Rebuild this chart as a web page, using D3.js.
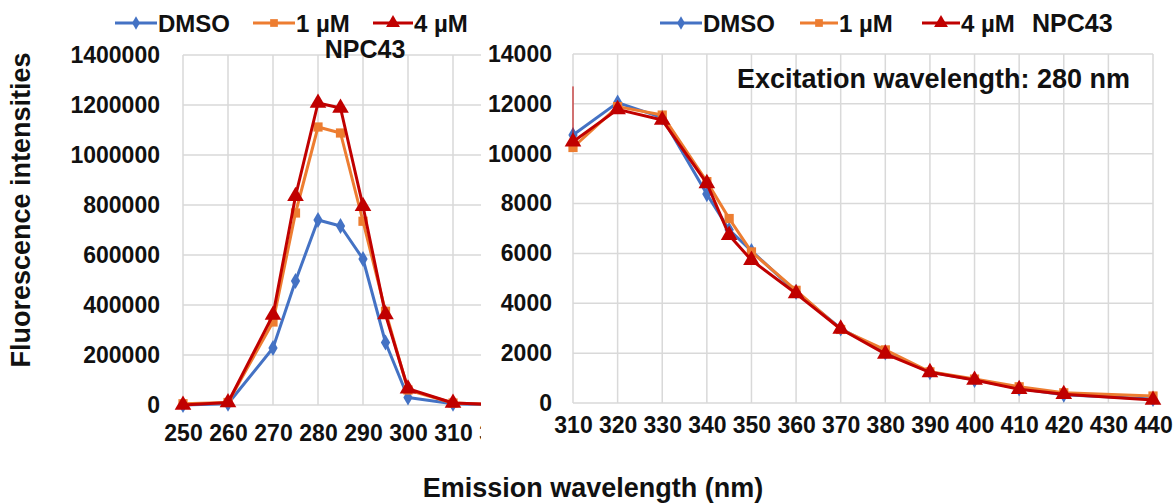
<!DOCTYPE html>
<html>
<head>
<meta charset="utf-8">
<script src="https://cdn.jsdelivr.net/npm/d3@7"></script>
<style>
  body { margin: 0; background: #fff; }
  text { font-family: "Liberation Sans", Arial, sans-serif; font-weight: bold; fill: #111; }
</style>
</head>
<body>
<div id="chart"></div>
<script>
// Left panel data (250-320 nm)
var left_wavelengths = [250, 260, 270, 275, 280, 285, 290, 295, 300, 310, 320];
var left_dmso = [0, 5000, 228000, 496000, 740000, 716000, 584000, 250000, 30000, 5000, 0];
var left_1um = [5000, 10000, 332000, 768000, 1112000, 1088000, 735000, 375000, 60000, 8000, 2000];
var left_4um = [0, 10000, 360000, 835000, 1208000, 1188000, 795000, 362000, 65000, 8000, 2000];

// Right panel data (310-440 nm)
var right_wavelengths = [310, 320, 330, 340, 345, 350, 360, 370, 380, 390, 400, 410, 420, 440];
var right_dmso = [10750, 12050, 11450, 8380, 6950, 6100, 4460, 2990, 2030, 1240, 930, 580, 330, 160];
var right_1um = [10250, 11890, 11550, 8880, 7400, 6060, 4520, 2950, 2130, 1250, 960, 650, 410, 280];
var right_4um = [10480, 11780, 11350, 8810, 6730, 5730, 4390, 2970, 1970, 1230, 920, 550, 350, 120];
var right_4um_spike = 12700;

var left_x_ticks = [250, 260, 270, 280, 290, 300, 310, 320];
var left_y_ticks = [0, 200000, 400000, 600000, 800000, 1000000, 1200000, 1400000];
var right_x_ticks = [310, 320, 330, 340, 350, 360, 370, 380, 390, 400, 410, 420, 430, 440];
var right_y_ticks = [0, 2000, 4000, 6000, 8000, 10000, 12000, 14000];

var series_names = ["DMSO", "1 \u00b5M", "4 \u00b5M"];
var series_colors = ["#4472C4", "#ED7D31", "#C00000"];
var series_symbols = [d3.symbolDiamond, d3.symbolSquare, d3.symbolTriangle];
var series_sizes = [75, 85, 120];

var svg = d3.select("#chart").append("svg")
  .attr("width", 1175)
  .attr("height", 504);

var grid_color = "#d9d9d9";

// Draw a panel: grid, axes labels, lines, markers
function drawPanel(opts) {
  var g = svg.append("g");

  var x = d3.scaleLinear().domain(opts.x_domain).range(opts.x_range);
  var y = d3.scaleLinear().domain(opts.y_domain).range(opts.y_range);

  // clip (only cuts the right side)
  svg.append("clipPath").attr("id", opts.id + "-clip")
    .append("rect")
    .attr("x", opts.x_range[0] - 60)
    .attr("y", 0)
    .attr("width", opts.clip_right - opts.x_range[0] + 60)
    .attr("height", 504);

  var plot_right = Math.min(opts.clip_right, opts.x_range[1]);

  // horizontal grid
  g.selectAll(".hgrid").data(opts.y_ticks).enter().append("line")
    .attr("x1", opts.x_range[0]).attr("x2", plot_right)
    .attr("y1", d => y(d)).attr("y2", d => y(d))
    .attr("stroke", grid_color).attr("stroke-width", 1.5);

  // vertical grid
  g.selectAll(".vgrid").data(opts.x_ticks.filter(d => x(d) <= plot_right)).enter().append("line")
    .attr("x1", d => x(d)).attr("x2", d => x(d))
    .attr("y1", y(opts.y_domain[1])).attr("y2", y(0))
    .attr("stroke", grid_color).attr("stroke-width", 1.5);

  // x axis labels
  var x_axis = g.append("g")
    .attr("transform", `translate(0, ${y(0)})`)
    .attr("clip-path", `url(#${opts.id}-clip)`)
    .call(d3.axisBottom(x).tickValues(opts.x_ticks).tickSize(0).tickPadding(opts.x_pad).tickFormat(d3.format("d")));
  x_axis.select(".domain").remove();
  x_axis.attr("font-size", 23).attr("font-family", null);

  // y axis labels
  var y_axis = g.append("g")
    .attr("transform", `translate(${opts.x_range[0]}, 0)`)
    .call(d3.axisLeft(y).tickValues(opts.y_ticks).tickSize(0).tickPadding(opts.y_pad).tickFormat(d3.format("d")));
  y_axis.select(".domain").remove();
  y_axis.attr("font-size", 23).attr("font-family", null);

  var plot = g.append("g").attr("clip-path", `url(#${opts.id}-clip)`);

  var line = d3.line()
    .x(d => x(d[0]))
    .y(d => y(d[1]));

  opts.series.forEach(function(values, i) {
    var pts = opts.xs.map((w, j) => [w, values[j]]);
    plot.append("path")
      .datum(pts)
      .attr("fill", "none")
      .attr("stroke", series_colors[i])
      .attr("stroke-width", 3)
      .attr("stroke-linejoin", "round")
      .attr("d", line);

    plot.selectAll(".m" + i).data(pts).enter().append("path")
      .attr("transform", d => `translate(${x(d[0])}, ${y(d[1])})`)
      .attr("d", d3.symbol().type(series_symbols[i]).size(series_sizes[i]))
      .attr("fill", series_colors[i]);
  });

  return { g: g, x: x, y: y, plot: plot };
}

var left_panel = drawPanel({
  id: "left",
  x_domain: [250, 320], x_range: [183, 498], clip_right: 481,
  y_domain: [0, 1400000], y_range: [405, 55],
  x_ticks: left_x_ticks, y_ticks: left_y_ticks,
  x_pad: 20, y_pad: 23,
  xs: left_wavelengths,
  series: [left_dmso, left_1um, left_4um]
});

var right_panel = drawPanel({
  id: "right",
  x_domain: [310, 440], x_range: [573, 1153], clip_right: 1175,
  y_domain: [0, 14000], y_range: [403, 54],
  x_ticks: right_x_ticks, y_ticks: right_y_ticks,
  x_pad: 14, y_pad: 21,
  xs: right_wavelengths,
  series: [right_dmso, right_1um, right_4um]
});

// thin red spike at the first point of the 4 uM series
right_panel.plot.append("line")
  .attr("x1", right_panel.x(right_wavelengths[0]))
  .attr("x2", right_panel.x(right_wavelengths[0]))
  .attr("y1", right_panel.y(right_4um[0]))
  .attr("y2", right_panel.y(right_4um_spike))
  .attr("stroke", series_colors[2])
  .attr("stroke-width", 1);

// Legends
function drawLegend(items, y) {
  items.forEach(function(it, i) {
    var lg = svg.append("g");
    lg.append("line")
      .attr("x1", it.x1).attr("x2", it.x2)
      .attr("y1", y).attr("y2", y)
      .attr("stroke", series_colors[i]).attr("stroke-width", 3);
    lg.append("path")
      .attr("transform", `translate(${(it.x1 + it.x2) / 2}, ${y})`)
      .attr("d", d3.symbol().type(series_symbols[i]).size(series_sizes[i] * 0.7))
      .attr("fill", series_colors[i]);
    lg.append("text")
      .attr("x", it.x2 + 1)
      .attr("y", y + 9)
      .attr("font-size", 24)
      .text(series_names[i]);
  });
}

drawLegend([{x1: 115, x2: 157}, {x1: 253, x2: 295}, {x1: 373, x2: 413}], 23);
drawLegend([{x1: 660, x2: 702}, {x1: 800, x2: 838}, {x1: 922, x2: 960}], 23);

svg.append("text")
  .attr("x", 1032).attr("y", 32)
  .attr("font-size", 25)
  .text("NPC43");

svg.append("text")
  .attr("x", 365).attr("y", 58)
  .attr("text-anchor", "middle")
  .attr("font-size", 25)
  .text("NPC43");

svg.append("text")
  .attr("x", 737).attr("y", 88)
  .attr("font-size", 27)
  .text("Excitation wavelength: 280 nm");

// Axis titles
svg.append("text")
  .attr("transform", "translate(30, 210) rotate(-90)")
  .attr("text-anchor", "middle")
  .attr("font-size", 27)
  .text("Fluorescence intensities");

svg.append("text")
  .attr("x", 593).attr("y", 497)
  .attr("text-anchor", "middle")
  .attr("font-size", 27)
  .text("Emission wavelength (nm)");
</script>
</body>
</html>
